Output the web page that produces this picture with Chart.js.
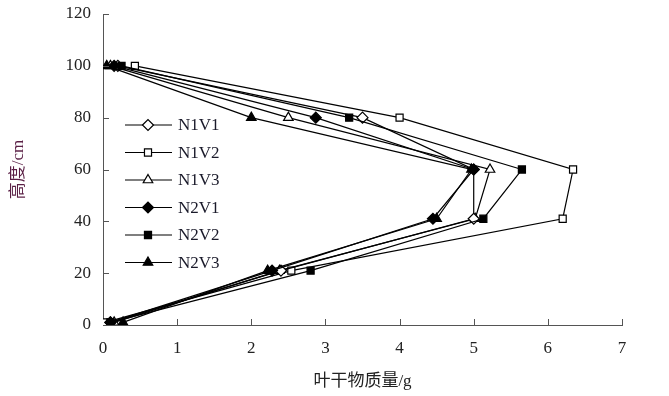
<!DOCTYPE html>
<html>
<head>
<meta charset="utf-8">
<script src="https://cdn.jsdelivr.net/npm/chart.js@4.4.0/dist/chart.umd.min.js"></script>
<style>
    html, body { margin: 0; padding: 0; background: #fff; }
</style>
</head>
<body>
<canvas id="massChart" width="669" height="396"></canvas>
<script>
// heights (cm) at which leaves were sampled, top to bottom
const heights = [100, 80, 60, 41, 21, 1];
const seriesNames = ['N1V1', 'N1V2', 'N1V3', 'N2V1', 'N2V2', 'N2V3'];

// leaf dry mass (g) per height
const n1v1 = [0.2, 3.5, 5.0, 5.0, 2.4, 0.1];
const n1v2 = [0.43, 4.0, 6.34, 6.2, 2.54, 0.03];
const n1v3 = [0.1, 2.5, 5.22, 5.02, 2.38, 0.15];
const n2v1 = [0.15, 2.87, 5.0, 4.45, 2.28, 0.1];
const n2v2 = [0.25, 3.32, 5.65, 5.13, 2.8, 0.1];
const n2v3 = [0.05, 2.0, 4.97, 4.5, 2.22, 0.27];

const xTicks = [0, 1, 2, 3, 4, 5, 6, 7];
const yTicks = [0, 20, 40, 60, 80, 100, 120];

const seriesValues = [n1v1, n1v2, n1v3, n2v1, n2v2, n2v3];
const markers = ['rectRot', 'rect', 'triangle', 'rectRot', 'rect', 'triangle'];
const filled = [false, false, false, true, true, true];

const datasets = seriesNames.map((name, i) => ({
    label: name,
    data: seriesValues[i].map((v, j) => ({ x: v, y: heights[j] })),
    order: filled[i] ? 0 : 1,
    showLine: true,
    borderColor: '#000',
    borderWidth: 1.2,
    pointStyle: markers[i],
    pointRadius: markers[i] === 'rect' ? 5 : 5.5,
    pointBorderWidth: 1.2,
    pointBorderColor: '#000',
    pointBackgroundColor: filled[i] ? '#000' : '#fff',
    backgroundColor: filled[i] ? '#000' : '#fff'
}));

const serif = "'Liberation Serif', 'Times New Roman', serif";

// tick marks pointing into the plot, plus legend inside the plot
const extras = {
    id: 'extras',
    afterDraw(chart) {
        const ctx = chart.ctx;
        const xs = chart.scales.x, ys = chart.scales.y;
        const area = chart.chartArea;
        ctx.save();
        ctx.strokeStyle = '#555';
        ctx.lineWidth = 1;
        xTicks.forEach(t => {
            if (t === 0) return;
            const px = Math.round(xs.getPixelForValue(t)) + 0.5;
            ctx.beginPath();
            ctx.moveTo(px, area.bottom);
            ctx.lineTo(px, area.bottom - 6);
            ctx.stroke();
        });
        yTicks.forEach(t => {
            if (t === 0) return;
            const py = Math.round(ys.getPixelForValue(t)) + 0.5;
            ctx.beginPath();
            ctx.moveTo(area.left, py);
            ctx.lineTo(area.left + 6, py);
            ctx.stroke();
        });

        seriesNames.forEach((name, i) => {
            const ds = chart.data.datasets[i];
            const y = 125 + i * 27.5;
            ctx.strokeStyle = '#000';
            ctx.lineWidth = 1.2;
            ctx.beginPath();
            ctx.moveTo(125, y);
            ctx.lineTo(172, y);
            ctx.stroke();
            ctx.fillStyle = ds.pointBackgroundColor;
            ctx.strokeStyle = '#000';
            Chart.helpers.drawPoint(ctx, { pointStyle: ds.pointStyle, radius: ds.pointRadius, borderWidth: 1.2, rotation: 0 }, 148, y);
            ctx.fillStyle = '#1a1a2a';
            ctx.font = '17px ' + serif;
            ctx.textAlign = 'left';
            ctx.textBaseline = 'middle';
            ctx.fillText(name, 178, y + 1);
        });
        ctx.restore();
    }
};

new Chart(document.getElementById('massChart').getContext('2d'), {
    type: 'scatter',
    data: { datasets: datasets },
    options: {
        responsive: false,
        animation: false,
        layout: { padding: { left: 0, top: 14, right: 47, bottom: 0 } },
        plugins: {
            legend: { display: false },
            tooltip: { enabled: false }
        },
        scales: {
            x: {
                type: 'linear',
                min: 0,
                max: 7,
                afterFit: s => { s.height = 71; },
                afterBuildTicks: s => { s.ticks = xTicks.map(v => ({ value: v })); },
                grid: { display: true, drawOnChartArea: false, drawTicks: false },
                border: { display: true, color: '#555', width: 1 },
                ticks: { padding: 13, color: '#222', font: { family: serif, size: 17 } },
                title: {
                    display: true,
                    text: '叶干物质量/g',
                    color: '#222',
                    padding: { top: 6 },
                    font: { family: "'Liberation Serif', 'Noto Sans CJK SC', serif", size: 17 }
                }
            },
            y: {
                type: 'linear',
                min: 0,
                max: 120,
                afterFit: s => { s.width = 103; s.paddingTop = 0; },
                afterBuildTicks: s => { s.ticks = yTicks.map(v => ({ value: v })); },
                grid: { display: true, drawOnChartArea: false, drawTicks: false },
                border: { display: true, color: '#555', width: 1 },
                ticks: { padding: 12, color: '#222', font: { family: serif, size: 17 } },
                title: {
                    display: true,
                    text: '高度/cm',
                    color: '#5a1f45',
                    padding: { top: 8 },
                    font: { family: "'Liberation Serif', 'Noto Sans CJK SC', serif", size: 17 }
                }
            }
        }
    },
    plugins: [extras]
});
</script>
</body>
</html>
